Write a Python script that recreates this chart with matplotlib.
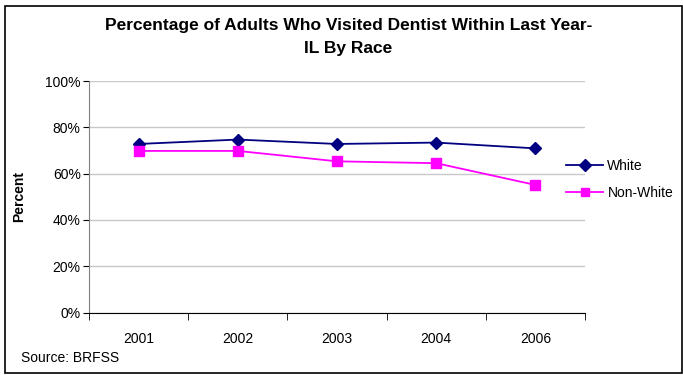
import numpy as np
import matplotlib.pyplot as plt
from matplotlib.patches import Rectangle

years = ['2001', '2002', '2003', '2004', '2006']
white = [72.8, 74.7, 72.8, 73.4, 70.9]
non_white = [69.8, 69.8, 65.3, 64.5, 55.1]

plt.rcParams['font.family'] = ['Liberation Sans', 'DejaVu Sans']

fig = plt.figure(figsize=(6.83, 3.75), dpi=100)
ax = fig.add_axes([89 / 683, 1 - 312.5 / 375, (585 - 89) / 683, (312.5 - 81) / 375])

# outer frame round the whole chart
fig.patches.append(Rectangle((5 / 683, 2 / 375), 677 / 683, 367 / 375, transform=fig.transFigure,
                             fill=False, edgecolor='black', linewidth=1.2))

x = np.arange(len(years))
ax.plot(x, white, color='#000080', marker='D', markersize=6, linewidth=1.3, label='White')
ax.plot(x, non_white, color='#FF00FF', marker='s', markersize=7, linewidth=1.3, label='Non-White')

ax.set_xlim(-0.5, len(years) - 0.5)
ax.set_ylim(0, 100)
ax.set_yticks(np.arange(0, 101, 20))
ax.set_yticklabels(['%d%%' % v for v in range(0, 101, 20)], fontsize=10)
ax.set_xticks(x)
ax.set_xticklabels(years, fontsize=10)
ax.tick_params(axis='x', which='major', length=0, pad=14)
ax.set_xticks(np.arange(-0.5, len(years), 1), minor=True)
ax.tick_params(axis='x', which='minor', length=5, direction='out', color='black')
ax.tick_params(axis='y', length=4, direction='out', color='black', pad=2)

ax.yaxis.grid(True, color='#C8C8C8', linewidth=1)
ax.set_axisbelow(True)
ax.spines['top'].set_visible(False)
ax.spines['right'].set_visible(False)
ax.spines['left'].set_color('#808080')
ax.spines['bottom'].set_color('black')

ax.set_ylabel('Percent', fontsize=10, fontweight='bold', labelpad=14)

fig.suptitle('Percentage of Adults Who Visited Dentist Within Last Year-\nIL By Race',
             x=(83 + 614) / 2 / 683, y=1 - 18 / 375, va='top', fontsize=12.5,
             fontweight='bold', linespacing=1.7)

leg = ax.legend(loc='center left', bbox_to_anchor=(0.95, 0.575), frameon=False, fontsize=10,
                handlelength=2.7, borderaxespad=0, labelspacing=0.9, handletextpad=0.3)
for h in leg.legend_handles:
    h.set_markersize(6)

fig.text(21 / 683, 1 - 358 / 375, 'Source: BRFSS', fontsize=10, va='center')

fig.savefig('out.png', dpi=100)
